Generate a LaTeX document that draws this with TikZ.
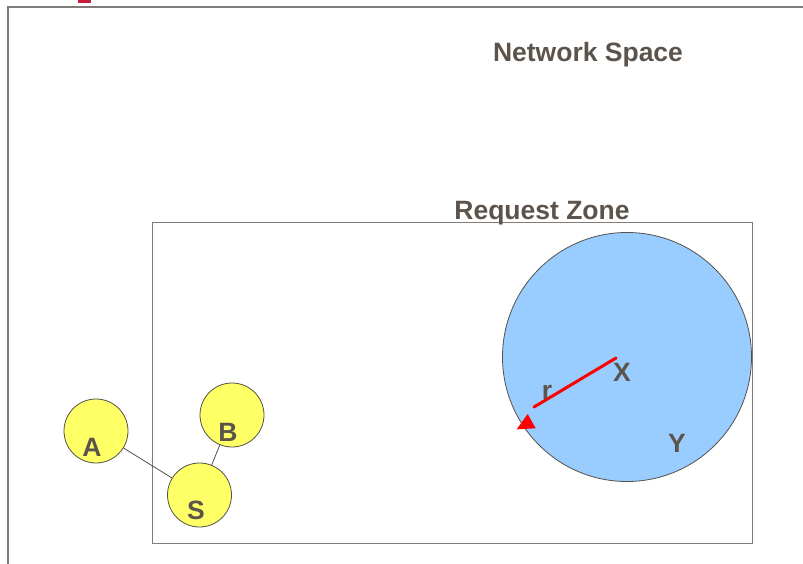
\documentclass[tikz,border=0pt]{standalone}
\usepackage{fontspec}
\setmainfont{Liberation Sans}
\definecolor{inkgray}{RGB}{92,84,76}
\definecolor{framegray}{RGB}{130,124,120}
\definecolor{edgegray}{RGB}{85,80,75}
\definecolor{nodeyellow}{RGB}{255,255,102}
\definecolor{zoneblue}{RGB}{153,204,255}
\definecolor{markred}{RGB}{200,30,60}

\tikzset{
  host/.style={circle,draw=edgegray,line width=0.8pt,fill=nodeyellow,minimum size=64pt,inner sep=0pt},
  tag/.style={anchor=base,inner sep=0pt,text=inkgray,font=\fontsize{26.5}{30}\selectfont\bfseries},
  link/.style={draw=edgegray,line width=0.8pt}
}

\begin{document}
\begin{tikzpicture}[x=1pt,y=-1pt]
      \useasboundingbox (0,0) rectangle (803,564);
      % outer space
      \fill[markred] (78,0) rectangle (91,3);
      \draw[framegray,line width=1.5pt] (8,564) -- (8,7) -- (803,7);
      \node[tag] (space) at (588,62) {Network Space};
      % request zone
      \draw[framegray,line width=1pt] (152,223) rectangle (752,543);
      \node[tag] (zone) at (542,220) {Request Zone};
      \node [circle,draw=edgegray,line width=0.8pt,fill=zoneblue,minimum size=249pt,inner sep=0pt] (cover) at (627,357) {};
      \coordinate (xc) at (616,358);
      \coordinate (rim) at (534,407);
      \draw[red,line width=3pt,line cap=round] (xc) -- (rim);
      \fill[red] (527.7,414) -- (516.7,429.3) -- (535.7,428.3) -- cycle;
      \node[tag] (x) at (622,381) {X};
      \node[tag] (r) at (547,399) {r};
      \node[tag] (y) at (677,452) {Y};
      % hosts
      \node [host] (a) at (96,431) {};
      \node [host] (b) at (232,415) {};
      \node [host] (s) at (199.5,495) {};
      \node[tag] at (92,456) {A};
      \node[tag] at (228,441) {B};
      \node[tag] at (196,519) {S};

      % links
      \draw[link] (a) -- (s);
      \draw[link] (b) -- (s);
    \end{tikzpicture}
\end{document}
